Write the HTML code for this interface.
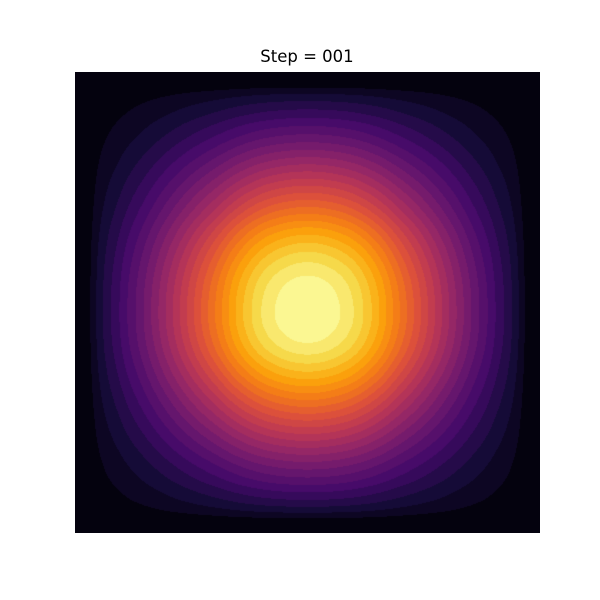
<!DOCTYPE html>
<html>
<head>
<meta charset="utf-8">
<style>
  html,body{margin:0;padding:0;background:#fff;}
  #wrap{position:relative;width:600px;height:600px;background:#fff;}
  #title{position:absolute;left:0;width:614px;top:47px;text-align:center;font-family:"DejaVu Sans","Liberation Sans",sans-serif;font-size:16.5px;color:#000;}
  #plot{position:absolute;left:75px;top:72px;}
</style>
</head>
<body>
<div id="wrap">
  <div id="title">Step = 001</div>
  <canvas id="plot" width="465" height="461"></canvas>
</div>
<script>
const profileX = [0,0.30,0.45,0.56,0.66,0.75,0.83,0.905,0.96,0.99,1.0,0.99,0.96,0.905,0.83,0.75,0.66,0.56,0.45,0.30,0];
const profileY = [0,0.29,0.44,0.55,0.65,0.74,0.82,0.895,0.95,0.985,0.999,0.997,0.972,0.92,0.85,0.77,0.68,0.58,0.47,0.31,0];
const levelCount = [26];
const cmapStops = [0,0.1,0.2,0.3,0.4,0.5,0.6,0.7,0.8,0.9,1];
const cmapColors = ["#000004","#160b39","#420a68","#6a176e","#932667","#bc3754","#dd513a","#f37819","#fca50a","#f6d746","#fcffa4"];

function hex(c){return [parseInt(c.slice(1,3),16),parseInt(c.slice(3,5),16),parseInt(c.slice(5,7),16)];}
const rgbStops = cmapColors.map(hex);
function cmap(t){
  t=Math.max(0,Math.min(1,t));
  for(let i=0;i<cmapStops.length-1;i++){
    if(t<=cmapStops[i+1]){
      const f=(t-cmapStops[i])/(cmapStops[i+1]-cmapStops[i]);
      const a=rgbStops[i],b=rgbStops[i+1];
      return [a[0]+(b[0]-a[0])*f,a[1]+(b[1]-a[1])*f,a[2]+(b[2]-a[2])*f];
    }
  }
  return rgbStops[rgbStops.length-1];
}
function sample(pts,t){
  const x=t*(pts.length-1);
  const i=Math.max(0,Math.min(pts.length-2,Math.floor(x)));
  const f=x-i;
  const p0=pts[Math.max(0,i-1)],p1=pts[i],p2=pts[i+1],p3=pts[Math.min(pts.length-1,i+2)];
  const f2=f*f,f3=f2*f;
  const v=0.5*((2*p1)+(-p0+p2)*f+(2*p0-5*p1+4*p2-p3)*f2+(-p0+3*p1-3*p2+p3)*f3);
  return Math.max(0,Math.min(1,v));
}
const cv=document.getElementById('plot');
const ctx=cv.getContext('2d');
const W=cv.width,H=cv.height;
const img=ctx.createImageData(W,H);
const L=levelCount[0];
const px=[],py=[];
for(let x=0;x<W;x++)px.push(sample(profileX,(x+0.5)/W));
for(let y=0;y<H;y++)py.push(sample(profileY,(y+0.5)/H));
for(let y=0;y<H;y++){
  for(let x=0;x<W;x++){
    let v=px[x]*py[y]; v=v*v;
    let k=Math.min(L-1,Math.floor(v*L));
    const c=cmap((k+0.5)/L);
    const o=(y*W+x)*4;
    img.data[o]=c[0];img.data[o+1]=c[1];img.data[o+2]=c[2];img.data[o+3]=255;
  }
}
ctx.putImageData(img,0,0);
</script>
</body>
</html>
